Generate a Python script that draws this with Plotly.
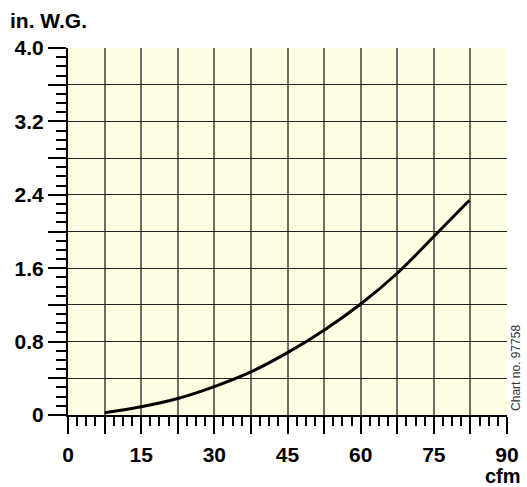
import plotly.graph_objects as go

# Data
flow_cfm = [7.5, 15, 22.5, 30, 37.5, 45, 52.5, 60, 67.5, 75, 82.3]
pressure_inwg = [0.025, 0.09, 0.18, 0.31, 0.47, 0.68, 0.925, 1.21, 1.545, 1.945, 2.34]

x_tick_vals = [0, 7.5, 15, 22.5, 30, 37.5, 45, 52.5, 60, 67.5, 75, 82.5, 90]
x_tick_text = ["0", "", "15", "", "30", "", "45", "", "60", "", "75", "", "90"]
y_tick_vals = [0, 0.4, 0.8, 1.2, 1.6, 2.0, 2.4, 2.8, 3.2, 3.6, 4.0]
y_tick_text = ["0", "", "0.8", "", "1.6", "", "2.4", "", "3.2", "", "4.0"]

FONT = "Liberation Sans, Arial, sans-serif"

fig = go.Figure()
fig.add_trace(go.Scatter(
    x=flow_cfm, y=pressure_inwg, mode="lines",
    line=dict(color="black", width=3, shape="spline", smoothing=1.0),
    hoverinfo="skip", showlegend=False,
))

fig.update_layout(
    width=527, height=487,
    margin=dict(l=68, r=20, t=48, b=72),
    paper_bgcolor="white",
    plot_bgcolor="#fefce1",
    font=dict(family=FONT, color="black"),
    annotations=[
        dict(text="<b>in. W.G.</b>", xref="paper", yref="paper",
             x=-0.137, y=1.074, xanchor="left", yanchor="middle",
             showarrow=False, font=dict(size=21, family=FONT)),
        dict(text="<b>cfm</b>", xref="paper", yref="paper",
             x=0.991, y=-0.165, xanchor="center", yanchor="middle",
             showarrow=False, font=dict(size=20, family=FONT)),
        dict(text="Chart no. 97758", xref="paper", yref="paper",
             x=1.02, y=0.005, xanchor="center", yanchor="bottom",
             textangle=-90, showarrow=False,
             font=dict(size=12, family=FONT, color="#333")),
    ],
)

fig.update_xaxes(
    range=[0, 90], tickmode="array", tickvals=x_tick_vals, ticktext=x_tick_text,
    showgrid=True, gridcolor="#6e6e64", gridwidth=1.5,
    showline=True, linecolor="black", linewidth=2,
    ticks="outside", ticklen=17, tickwidth=2, tickcolor="black",
    tickfont=dict(size=21, family=FONT, weight="bold"),
    ticklabelstandoff=3,
    zeroline=False, fixedrange=True, automargin=False,
    minor=dict(dtick=1.875, tick0=0, ticks="outside", ticklen=9, tickwidth=1.5,
               tickcolor="black", showgrid=False),
)
fig.update_yaxes(
    range=[0, 4.0], tickmode="array", tickvals=y_tick_vals, ticktext=y_tick_text,
    showgrid=True, gridcolor="#222222", gridwidth=1.2,
    showline=True, linecolor="black", linewidth=2,
    ticks="outside", ticklen=18, tickwidth=2, tickcolor="black",
    tickfont=dict(size=21, family=FONT, weight="bold"),
    ticklabelstandoff=0,
    zeroline=False, fixedrange=True, automargin=False,
    minor=dict(dtick=0.1, tick0=0, ticks="outside", ticklen=10, tickwidth=1.5,
               tickcolor="black", showgrid=False),
)

fig.write_html("out.html", config={"displayModeBar": False},
               post_script="document.body.style.margin='0';document.body.style.overflow='hidden';")
